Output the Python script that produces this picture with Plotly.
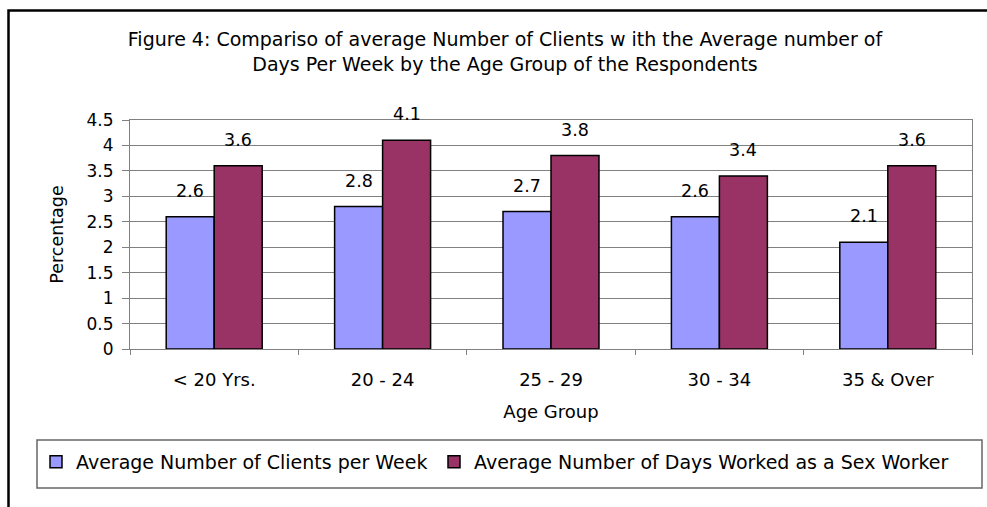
import plotly.graph_objects as go

age_groups = ["< 20 Yrs.", "20 - 24", "25 - 29", "30 - 34", "35 & Over"]
clients_per_week = [2.6, 2.8, 2.7, 2.6, 2.1]
days_worked = [3.6, 4.1, 3.8, 3.4, 3.6]
y_ticks = [0, 0.5, 1, 1.5, 2, 2.5, 3, 3.5, 4, 4.5]
y_tick_labels = ["0", "0.5", "1", "1.5", "2", "2.5", "3", "3.5", "4", "4.5"]

series_names = ["Average Number of Clients per Week",
                "Average Number of Days Worked as a Sex Worker"]
colors = ["#9999FF", "#993366"]

FONT = "DejaVu Sans"
W, H = 987, 507
ML, MR, MT, MB = 130, 15, 120, 158
PW = W - ML - MR
PH = H - MT - MB

def px_x(px):
    return (px - ML) / PW

def px_y(py):
    return (H - MB - py) / PH

fig = go.Figure()
legend_ids = ["legend", "legend2"]
for name, vals, col, lg in zip(series_names, [clients_per_week, days_worked], colors, legend_ids):
    fig.add_trace(go.Bar(
        x=age_groups, y=vals, name=name, legend=lg,
        marker=dict(color=col, line=dict(color="black", width=1.5)),
        hoverinfo="skip",
    ))

# data labels
for vals, shift in [(clients_per_week, -24), (days_worked, 24)]:
    for cat, v in zip(age_groups, vals):
        fig.add_annotation(x=cat, y=v, text=f"{v:.1f}", showarrow=False,
                           xshift=shift, yshift=14, yanchor="bottom",
                           font=dict(family=FONT, size=17.5, color="black"))

shapes = [
    # outer chart border
    dict(type="rect", xref="paper", yref="paper",
         x0=px_x(8.5), x1=px_x(1000), y0=px_y(520), y1=px_y(10.5),
         line=dict(color="black", width=2.5), fillcolor="rgba(0,0,0,0)", layer="below"),
    # legend box
    dict(type="rect", xref="paper", yref="paper",
         x0=px_x(37), x1=px_x(982), y0=px_y(488), y1=px_y(440),
         line=dict(color="#666666", width=1.5), fillcolor="white", layer="below"),
]

leg_font = dict(family=FONT, size=19, color="black")
fig.update_layout(
    width=W, height=H,
    margin=dict(l=ML, r=MR, t=MT, b=MB),
    paper_bgcolor="white", plot_bgcolor="white",
    font=dict(family=FONT, color="black"),
    title=dict(text="Figure 4: Compariso of average Number of Clients w ith the Average number of<br>Days Per Week by the Age Group of the Respondents",
               x=505 / W, xanchor="center", xref="container",
               y=1 - 46 / H, yanchor="middle", yref="container",
               font=dict(family=FONT, size=19, color="black")),
    barmode="group", bargap=0.43, bargroupgap=0,
    showlegend=True,
    legend=dict(orientation="h", x=px_x(36), xanchor="left",
                y=px_y(462), yanchor="middle",
                bgcolor="rgba(0,0,0,0)", borderwidth=0, font=leg_font),
    legend2=dict(orientation="h", x=px_x(434), xanchor="left",
                 y=px_y(462), yanchor="middle",
                 bgcolor="rgba(0,0,0,0)", borderwidth=0, font=leg_font),
    shapes=shapes,
)

fig.update_xaxes(
    type="category", showline=True, linecolor="#808080", linewidth=1, mirror=True,
    ticks="outside", tickson="boundaries", ticklen=5, tickcolor="#808080",
    ticklabelstandoff=14,
    tickfont=dict(family=FONT, size=18, color="black"),
    title=dict(text="Age Group", font=dict(family=FONT, size=18, color="black"), standoff=16),
    showgrid=False,
)
fig.update_yaxes(
    range=[0, 4.5], tickvals=y_ticks, ticktext=y_tick_labels,
    showline=True, linecolor="#808080", linewidth=1, mirror=True,
    ticks="outside", ticklen=7, tickcolor="#808080",
    ticklabelstandoff=5,
    showgrid=True, gridcolor="#808080", gridwidth=1,
    zeroline=False,
    tickfont=dict(family=FONT, size=17, color="black"),
    title=dict(text="Percentage", font=dict(family=FONT, size=17.5, color="black"), standoff=18),
)

fig.write_html("out.html", config={"displayModeBar": False},
               post_script="document.body.style.margin='0';")
